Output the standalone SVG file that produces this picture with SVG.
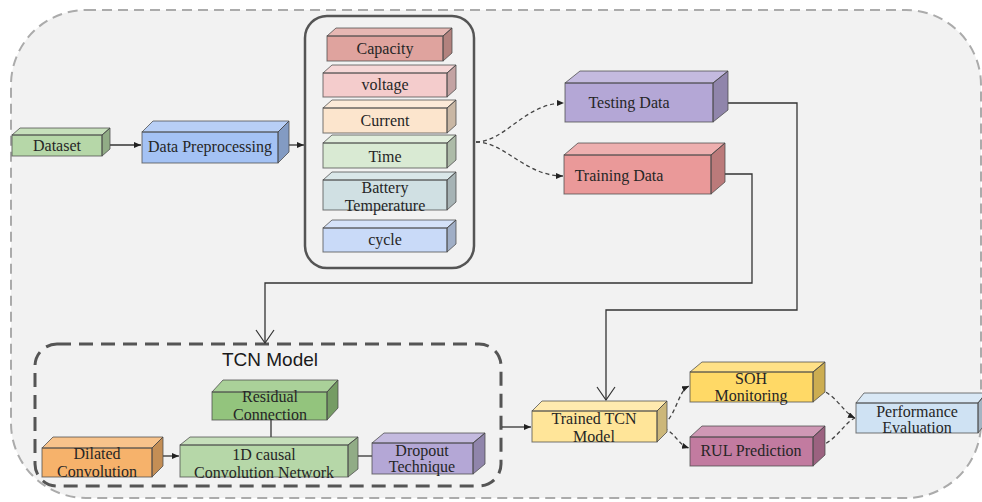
<svg xmlns="http://www.w3.org/2000/svg" width="982" height="502" viewBox="0 0 982 502">
  <style>
    .body { stroke: none; }
    .top { fill: #ffffff; fill-opacity: 0.22; stroke: #4a4a4a; stroke-opacity: 0.75; stroke-width: 1; stroke-linejoin: round; }
    .side { fill: #000000; fill-opacity: 0.2; stroke: #4a4a4a; stroke-opacity: 0.75; stroke-width: 1; stroke-linejoin: round; }
    .front { fill: none; stroke: #4a4a4a; stroke-opacity: 0.75; stroke-width: 1; }
    .lbl { font-family: "Liberation Serif", "Times New Roman", serif; font-size: 16px; fill: #262626; text-anchor: middle; }
    .title { font-family: "Liberation Sans", Arial, sans-serif; font-size: 19px; fill: #1a1a1a; text-anchor: middle; }
    .wire { fill: none; stroke: #333333; stroke-width: 1.3; }
    .dash { fill: none; stroke: #444444; stroke-width: 1.3; stroke-dasharray: 4 3; }
  </style>
  <defs>
    <marker id="tri" markerUnits="userSpaceOnUse" markerWidth="8" markerHeight="8" refX="7" refY="3" orient="auto">
      <path d="M0,0 L7,3 L0,6 Z" fill="#222"/>
    </marker>
    <marker id="vee" markerUnits="userSpaceOnUse" markerWidth="16" markerHeight="22" refX="14" refY="10" orient="auto">
      <path d="M1,1 L14,10 L1,19" fill="none" stroke="#333" stroke-width="1.2"/>
    </marker>
  </defs>

  <!-- overall frame -->
  <rect x="11" y="10" width="970" height="488" rx="75" ry="75" fill="#f2f2f2" stroke="#ababab" stroke-width="2" stroke-dasharray="10 6"/>

  <!-- feature container -->
  <rect x="305" y="16" width="169" height="252" rx="22" ry="22" fill="none" stroke="#555" stroke-width="2.5"/>

  <!-- TCN model container -->
  <g id="tcn-model">
    <rect x="35" y="344" width="466" height="142" rx="22" ry="22" fill="none" stroke="#555" stroke-width="3" stroke-dasharray="14 8"/>
    <text class="title" x="270" y="366">TCN Model</text>
  </g>

  <g id="connectors">
    <line class="wire" x1="102" y1="145" x2="141" y2="145" marker-end="url(#tri)"/>
    <line class="wire" x1="278" y1="145" x2="304" y2="145" marker-end="url(#tri)"/>
    <path class="dash" d="M476,142 C505,142 525,103 564,103" marker-end="url(#tri)"/>
    <path class="dash" d="M476,142 C505,142 525,176 563,176" marker-end="url(#tri)"/>
    <path class="wire" d="M713,103 H797 V310 H606 V400" marker-end="url(#vee)"/>
    <path class="wire" d="M711,174 H752 V283 H265 V343" marker-end="url(#vee)"/>
    <line class="wire" x1="271" y1="420" x2="271" y2="445" marker-end="url(#tri)"/>
    <line class="wire" x1="152" y1="456" x2="179" y2="456" marker-end="url(#tri)"/>
    <line class="wire" x1="372" y1="456" x2="349" y2="456" marker-end="url(#tri)"/>
    <line class="wire" x1="502" y1="427" x2="531" y2="427" marker-end="url(#tri)"/>
    <path class="dash" d="M657,426 C676,424 676,392 689,386" marker-end="url(#tri)"/>
    <path class="dash" d="M657,426 C676,430 676,444 689,448" marker-end="url(#tri)"/>
    <path class="dash" d="M813,387 C836,392 842,412 855,418" marker-end="url(#tri)"/>
    <path class="dash" d="M813,448 C836,444 842,424 855,418"/>
  </g>

  <!-- Dataset -->
  <g id="dataset">
    <path class="body" fill="#b6d7a8" d="M12,156 V135 L20,128 H110 V149 L102,156 Z"/>
    <polygon class="top" points="12,135 20,128 110,128 102,135"/>
    <polygon class="side" points="102,135 110,128 110,149 102,156"/>
    <rect class="front" x="12" y="135" width="90" height="21"/>
    <text class="lbl" x="57" y="151">Dataset</text>
  </g>

  <!-- Data Preprocessing -->
  <g id="data-preprocessing">
    <path class="body" fill="#a4c2f4" d="M142,163 V132 L153,121 H289 V152 L278,163 Z"/>
    <polygon class="top" points="142,132 153,121 289,121 278,132"/>
    <polygon class="side" points="278,132 289,121 289,152 278,163"/>
    <rect class="front" x="142" y="132" width="136" height="31"/>
    <text class="lbl" x="210" y="152">Data Preprocessing</text>
  </g>

  <!-- Capacity -->
  <g id="capacity">
    <path class="body" fill="#dfa39e" d="M327,61 V36 L336,28 H452 V53 L443,61 Z"/>
    <polygon class="top" points="327,36 336,28 452,28 443,36"/>
    <polygon class="side" points="443,36 452,28 452,53 443,61"/>
    <rect class="front" x="327" y="36" width="116" height="25"/>
    <text class="lbl" x="385" y="54">Capacity</text>
  </g>

  <!-- voltage -->
  <g id="voltage">
    <path class="body" fill="#f4cccc" d="M323,97 V73 L332,65 H456 V89 L447,97 Z"/>
    <polygon class="top" points="323,73 332,65 456,65 447,73"/>
    <polygon class="side" points="447,73 456,65 456,89 447,97"/>
    <rect class="front" x="323" y="73" width="124" height="24"/>
    <text class="lbl" x="385" y="90">voltage</text>
  </g>

  <!-- Current -->
  <g id="current">
    <path class="body" fill="#fce5cd" d="M323,133 V108 L332,100 H456 V125 L447,133 Z"/>
    <polygon class="top" points="323,108 332,100 456,100 447,108"/>
    <polygon class="side" points="447,108 456,100 456,125 447,133"/>
    <rect class="front" x="323" y="108" width="124" height="25"/>
    <text class="lbl" x="385" y="126">Current</text>
  </g>

  <!-- Time -->
  <g id="time">
    <path class="body" fill="#d9ead3" d="M323,168 V143 L332,135 H456 V160 L447,168 Z"/>
    <polygon class="top" points="323,143 332,135 456,135 447,143"/>
    <polygon class="side" points="447,143 456,135 456,160 447,168"/>
    <rect class="front" x="323" y="143" width="124" height="25"/>
    <text class="lbl" x="385" y="162">Time</text>
  </g>

  <!-- Battery Temperature -->
  <g id="battery-temperature">
    <path class="body" fill="#d0e0e3" d="M323,210 V180 L332,172 H456 V202 L447,210 Z"/>
    <polygon class="top" points="323,180 332,172 456,172 447,180"/>
    <polygon class="side" points="447,180 456,172 456,202 447,210"/>
    <rect class="front" x="323" y="180" width="124" height="30"/>
    <text class="lbl" x="385" y="193">Battery</text>
    <text class="lbl" x="385" y="211">Temperature</text>
  </g>

  <!-- cycle -->
  <g id="cycle">
    <path class="body" fill="#c9daf8" d="M323,252 V228 L332,220 H456 V244 L447,252 Z"/>
    <polygon class="top" points="323,228 332,220 456,220 447,228"/>
    <polygon class="side" points="447,228 456,220 456,244 447,252"/>
    <rect class="front" x="323" y="228" width="124" height="24"/>
    <text class="lbl" x="385" y="245">cycle</text>
  </g>

  <!-- Testing Data -->
  <g id="testing-data">
    <path class="body" fill="#b4a7d6" d="M565,122 V83 L580,71 H728 V110 L713,122 Z"/>
    <polygon class="top" points="565,83 580,71 728,71 713,83"/>
    <polygon class="side" points="713,83 728,71 728,110 713,122"/>
    <rect class="front" x="565" y="83" width="148" height="39"/>
    <text class="lbl" x="629" y="108">Testing Data</text>
  </g>

  <!-- Training Data -->
  <g id="training-data">
    <path class="body" fill="#ea9999" d="M564,194 V155 L578,143 H725 V182 L711,194 Z"/>
    <polygon class="top" points="564,155 578,143 725,143 711,155"/>
    <polygon class="side" points="711,155 725,143 725,182 711,194"/>
    <rect class="front" x="564" y="155" width="147" height="39"/>
    <text class="lbl" x="619" y="181">Training Data</text>
  </g>

  <!-- Residual Connection -->
  <g id="residual-connection">
    <path class="body" fill="#93c47d" d="M212,420 V392 L223,380 H338 V408 L327,420 Z"/>
    <polygon class="top" points="212,392 223,380 338,380 327,392"/>
    <polygon class="side" points="327,392 338,380 338,408 327,420"/>
    <rect class="front" x="212" y="392" width="115" height="28"/>
    <text class="lbl" x="270" y="402">Residual</text>
    <text class="lbl" x="270" y="420">Connection</text>
  </g>

  <!-- 1D causal Convolution Network -->
  <g id="causal-conv">
    <path class="body" fill="#b6d7a8" d="M180,477 V445 L190,437 H358 V469 L348,477 Z"/>
    <polygon class="top" points="180,445 190,437 358,437 348,445"/>
    <polygon class="side" points="348,445 358,437 358,469 348,477"/>
    <rect class="front" x="180" y="445" width="168" height="32"/>
    <text class="lbl" x="264" y="460">1D causal</text>
    <text class="lbl" x="264" y="478">Convolution Network</text>
  </g>

  <!-- Dilated Convolution -->
  <g id="dilated-conv">
    <path class="body" fill="#f6b26b" d="M42,477 V448 L53,437 H163 V466 L152,477 Z"/>
    <polygon class="top" points="42,448 53,437 163,437 152,448"/>
    <polygon class="side" points="152,448 163,437 163,466 152,477"/>
    <rect class="front" x="42" y="448" width="110" height="29"/>
    <text class="lbl" x="97" y="459">Dilated</text>
    <text class="lbl" x="97" y="477">Convolution</text>
  </g>

  <!-- Dropout Technique -->
  <g id="dropout">
    <path class="body" fill="#b4a7d6" d="M372,474 V443 L384,433 H485 V464 L473,474 Z"/>
    <polygon class="top" points="372,443 384,433 485,433 473,443"/>
    <polygon class="side" points="473,443 485,433 485,464 473,474"/>
    <rect class="front" x="372" y="443" width="101" height="31"/>
    <text class="lbl" x="422" y="456">Dropout</text>
    <text class="lbl" x="422" y="472">Technique</text>
  </g>

  <!-- Trained TCN Model -->
  <g id="trained-tcn">
    <path class="body" fill="#ffe599" d="M532,442 V411 L542,401 H667 V432 L657,442 Z"/>
    <polygon class="top" points="532,411 542,401 667,401 657,411"/>
    <polygon class="side" points="657,411 667,401 667,432 657,442"/>
    <rect class="front" x="532" y="411" width="125" height="31"/>
    <text class="lbl" x="594" y="424">Trained TCN</text>
    <text class="lbl" x="594" y="442">Model</text>
  </g>

  <!-- SOH Monitoring -->
  <g id="soh-monitoring">
    <path class="body" fill="#ffd966" d="M690,402 V372 L702,362 H825 V392 L813,402 Z"/>
    <polygon class="top" points="690,372 702,362 825,362 813,372"/>
    <polygon class="side" points="813,372 825,362 825,392 813,402"/>
    <rect class="front" x="690" y="372" width="123" height="30"/>
    <text class="lbl" x="751" y="384">SOH</text>
    <text class="lbl" x="751" y="401">Monitoring</text>
  </g>

  <!-- RUL Prediction -->
  <g id="rul-prediction">
    <path class="body" fill="#c27ba0" d="M690,466 V437 L702,426 H825 V455 L813,466 Z"/>
    <polygon class="top" points="690,437 702,426 825,426 813,437"/>
    <polygon class="side" points="813,437 825,426 825,455 813,466"/>
    <rect class="front" x="690" y="437" width="123" height="29"/>
    <text class="lbl" x="751" y="456">RUL Prediction</text>
  </g>

  <!-- Performance Evaluation -->
  <g id="performance-evaluation">
    <path class="body" fill="#cfe2f3" d="M856,433 V403 L864,393 H986 V423 L978,433 Z"/>
    <polygon class="top" points="856,403 864,393 986,393 978,403"/>
    <polygon class="side" points="978,403 986,393 986,423 978,433"/>
    <rect class="front" x="856" y="403" width="122" height="30"/>
    <text class="lbl" x="917" y="417">Performance</text>
    <text class="lbl" x="917" y="433">Evaluation</text>
  </g>
</svg>
